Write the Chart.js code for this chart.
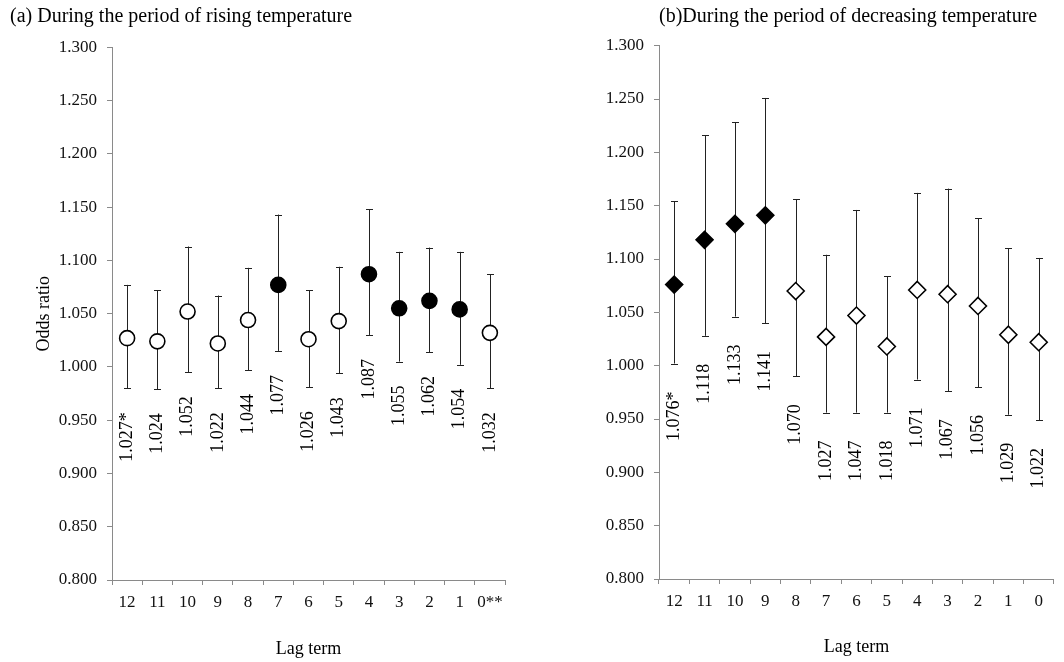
<!DOCTYPE html>
<html>
<head>
<meta charset="utf-8">
<script src="https://cdn.jsdelivr.net/npm/chart.js@4.4.1/dist/chart.umd.min.js"></script>
<style>
  body { margin: 0; background: #fff; }
  #wrap { position: relative; width: 1064px; height: 662px; }
  canvas { position: absolute; top: 0; }
  #rise { left: 0; }
  #fall { left: 540px; }
</style>
</head>
<body>
<div id="wrap">
  <canvas id="rise" width="540" height="662"></canvas>
  <canvas id="fall" width="524" height="662"></canvas>
</div>
<script>
// lag terms on the x axis
const riseLags = ['12', '11', '10', '9', '8', '7', '6', '5', '4', '3', '2', '1', '0**'];
const fallLags = ['12', '11', '10', '9', '8', '7', '6', '5', '4', '3', '2', '1', '0'];

// (a) rising temperature: odds ratio and 95% CI
const riseOR   = [1.027, 1.024, 1.052, 1.022, 1.044, 1.077, 1.026, 1.043, 1.087, 1.055, 1.062, 1.054, 1.032];
const riseLow  = [0.980, 0.979, 0.995, 0.980, 0.997, 1.015, 0.981, 0.994, 1.030, 1.005, 1.014, 1.002, 0.980];
const riseHigh = [1.077, 1.072, 1.113, 1.067, 1.093, 1.143, 1.072, 1.094, 1.148, 1.108, 1.112, 1.108, 1.087];
const riseSig  = [0, 0, 0, 0, 0, 1, 0, 0, 1, 1, 1, 1, 0];
const riseNote = ['*', '', '', '', '', '', '', '', '', '', '', '', ''];

// (b) decreasing temperature
const fallOR   = [1.076, 1.118, 1.133, 1.141, 1.070, 1.027, 1.047, 1.018, 1.071, 1.067, 1.056, 1.029, 1.022];
const fallLow  = [1.002, 1.028, 1.046, 1.040, 0.990, 0.956, 0.956, 0.956, 0.987, 0.976, 0.980, 0.954, 0.949];
const fallHigh = [1.154, 1.216, 1.228, 1.251, 1.156, 1.104, 1.146, 1.084, 1.162, 1.166, 1.138, 1.110, 1.101];
const fallSig  = [1, 1, 1, 1, 0, 0, 0, 0, 0, 0, 0, 0, 0];
const fallNote = ['*', '', '', '', '', '', '', '', '', '', '', '', ''];

const yTicks = [0.8, 1.3, 0.05]; // min, max, step

Chart.defaults.font.family = "'Liberation Serif', 'Times New Roman', serif";
Chart.defaults.color = '#111';
const axisColor = '#8a8a8a';

// error bars under the markers, value labels rotated below the bars
const errorBars = {
  id: 'errorBars',
  beforeDatasetsDraw(chart) {
    const { ctx, scales: { x, y } } = chart;
    const ds = chart.data.datasets[0];
    ctx.save();
    ctx.strokeStyle = '#222';
    ctx.lineWidth = 1;
    ds.low.forEach((lo, i) => {
      const px = Math.round(x.getPixelForValue(i)) + 0.5;
      const y1 = y.getPixelForValue(lo);
      const y2 = y.getPixelForValue(ds.high[i]);
      ctx.beginPath();
      ctx.moveTo(px, y1); ctx.lineTo(px, y2);
      ctx.moveTo(px - 3.5, Math.round(y1) + 0.5); ctx.lineTo(px + 3.5, Math.round(y1) + 0.5);
      ctx.moveTo(px - 3.5, Math.round(y2) + 0.5); ctx.lineTo(px + 3.5, Math.round(y2) + 0.5);
      ctx.stroke();
    });
    ctx.restore();
  },
  afterDatasetsDraw(chart) {
    const { ctx, scales: { x, y } } = chart;
    const ds = chart.data.datasets[0];
    ctx.save();
    ctx.fillStyle = '#000';
    ctx.font = "18px 'Liberation Serif', 'Times New Roman', serif";
    ctx.textAlign = 'right';
    ctx.textBaseline = 'middle';
    ds.data.forEach((v, i) => {
      ctx.save();
      ctx.translate(x.getPixelForValue(i), y.getPixelForValue(ds.low[i]) + ds.labelGap);
      ctx.rotate(-Math.PI / 2);
      ctx.fillText(v.toFixed(3) + ds.note[i], 0, 0);
      ctx.restore();
    });
    ctx.restore();
  }
};

function makeChart(id, opt) {
  return new Chart(document.getElementById(id), {
    type: 'line',
    data: {
      labels: opt.lags,
      datasets: [{
        data: opt.or,
        low: opt.low,
        high: opt.high,
        note: opt.note,
        labelGap: opt.labelGap,
        showLine: false,
        pointStyle: opt.shape,
        pointRadius: opt.radius,
        pointBorderWidth: 1.6,
        pointBorderColor: '#000',
        pointBackgroundColor: opt.sig.map(s => s ? '#000' : '#fff')
      }]
    },
    options: {
      responsive: false,
      animation: false,
      events: [],
      layout: { padding: opt.padding },
      plugins: {
        legend: { display: false },
        tooltip: { enabled: false },
        title: {
          display: true,
          text: opt.title,
          align: 'start',
          fullSize: opt.fullTitle,
          color: '#000',
          font: { size: 20, weight: 'normal' },
          padding: { top: 5, bottom: opt.titleGap }
        }
      },
      scales: {
        x: {
          type: 'category',
          offset: true,
          grid: { offset: true, drawOnChartArea: false, drawTicks: true, tickLength: 5, color: axisColor },
          border: { color: axisColor },
          ticks: { font: { size: 17 }, padding: 7, maxRotation: 0, autoSkip: false, color: '#111' },
          title: { display: true, text: 'Lag term', color: '#000', font: { size: 18 }, padding: { top: 0, bottom: opt.xTitleBottom } },
          afterFit: s => { s.height = opt.xHeight; }
        },
        y: {
          min: yTicks[0],
          max: yTicks[1],
          grid: { drawOnChartArea: false, drawTicks: true, tickLength: 5, color: axisColor },
          border: { color: axisColor },
          ticks: { stepSize: yTicks[2], font: { size: 17 }, padding: 10, color: '#111', callback: v => v.toFixed(3) },
          title: { display: !!opt.yTitle, text: opt.yTitle, color: '#000', font: { size: 18 }, padding: { top: 23, bottom: 0 } },
          afterFit: s => { s.width = opt.yWidth; }
        }
      }
    },
    plugins: [errorBars]
  });
}

makeChart('rise', {
  lags: riseLags, or: riseOR, low: riseLow, high: riseHigh, sig: riseSig, note: riseNote,
  title: '(a) During the period of rising temperature',
  shape: 'circle', radius: 7.5, labelGap: 24,
  padding: { left: 10, right: 35, top: 0, bottom: 0 },
  fullTitle: true, titleGap: 18.3,
  yTitle: 'Odds ratio', yWidth: 102,
  xHeight: 82, xTitleBottom: 2
});

makeChart('fall', {
  lags: fallLags, or: fallOR, low: fallLow, high: fallHigh, sig: fallSig, note: fallNote,
  title: '(b)During the period of decreasing temperature',
  shape: 'rectRot', radius: 8.5, labelGap: 28,
  padding: { left: 0, right: 1, top: 0, bottom: 0 },
  fullTitle: false, titleGap: 16.7,
  yTitle: '', yWidth: 119,
  xHeight: 83, xTitleBottom: 4
});
</script>
</body>
</html>
